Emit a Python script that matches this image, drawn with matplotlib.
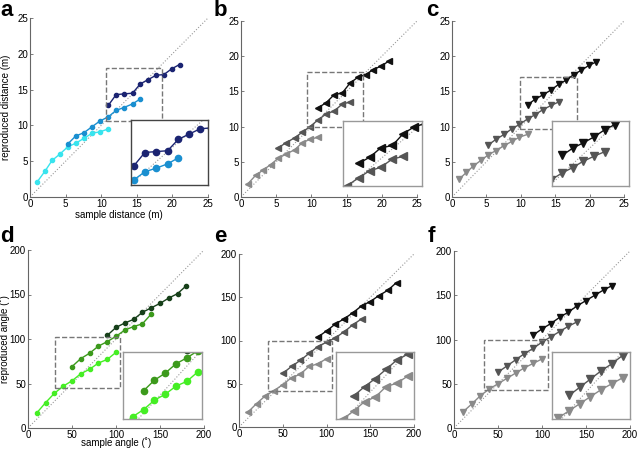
import matplotlib
matplotlib.use("Agg")
import matplotlib.pyplot as plt
from matplotlib.patches import Rectangle

plt.rcParams['font.family'] = ['Liberation Sans', 'DejaVu Sans']

# sample positions (distance in m, angle in deg)
dist_short = [1.0, 2.1, 3.1, 4.2, 5.3, 6.4, 7.6, 8.7, 9.8, 11.0]
dist_mid = [5.3, 6.4, 7.6, 8.7, 9.8, 11.0, 12.1, 13.2, 14.4, 15.5]
dist_long = [11.0, 12.1, 13.2, 14.4, 15.5, 16.6, 17.7, 18.8, 19.9, 21.0]
ang_short = [10, 20, 30, 40, 50, 60, 70, 80, 90, 100]
ang_mid = [50, 60, 70, 80, 90, 100, 110, 120, 130, 140]
ang_long = [90, 100, 110, 120, 130, 140, 150, 160, 170, 180]

# reproduced values
a_short = [2.1, 3.6, 5.1, 6.0, 7.0, 7.5, 8.2, 8.9, 9.1, 9.5]
a_mid = [7.4, 8.5, 9.0, 9.8, 10.6, 11.2, 12.1, 12.5, 13.0, 13.7]
a_long = [12.8, 14.3, 14.4, 14.5, 15.8, 16.4, 17.0, 17.1, 17.9, 18.5]

b_short = [1.9, 3.1, 3.8, 4.6, 5.5, 6.1, 6.7, 7.7, 8.2, 8.5]
b_mid = [7.0, 7.7, 8.4, 9.2, 10.0, 11.0, 11.8, 12.2, 13.2, 13.5]
b_long = [12.7, 13.4, 14.5, 14.8, 16.2, 17.0, 17.4, 18.1, 18.6, 19.3]

c_short = [2.5, 3.5, 4.4, 5.2, 6.0, 6.6, 7.3, 7.9, 8.5, 8.9]
c_mid = [7.4, 8.2, 8.9, 9.7, 10.3, 11.1, 11.7, 12.4, 13.0, 13.5]
c_long = [13.1, 13.9, 14.5, 15.2, 16.0, 16.6, 17.4, 18.0, 18.7, 19.2]

d_short = [17, 28.5, 39, 47, 53, 61, 66, 73, 77, 85]
d_mid = [69, 78, 84, 92, 97, 103, 110, 114, 117, 128]
d_long = [104, 113, 118, 122, 130, 135, 140, 146, 151, 160]

e_short = [17, 27, 36, 42, 49, 57, 61, 70, 73, 79]
e_mid = [62, 70, 77, 85, 93, 98, 103, 110, 118, 125]
e_long = [104, 111, 119, 125, 132, 140, 145, 152, 158, 167]

f_short = [18, 27, 36.5, 44, 50, 56, 62, 68, 73, 78]
f_mid = [63, 70, 77, 84, 90, 97, 103, 109, 115, 120]
f_long = [105, 112, 118, 125, 131, 138, 144, 150, 156, 161]

blues = ['#38e4ee', '#1a8fd0', '#1b2472']
greens = ['#45ee24', '#3c9a1c', '#17401a']
greys = ['#8a8a8a', '#555555', '#111111']

W, H = 640, 450
fig = plt.figure(figsize=(6.4, 4.5), dpi=100)
fig.patch.set_facecolor('white')


def px_axes(l, r, t, b):
    return fig.add_axes([l / W, (H - b) / H, (r - l) / W, (b - t) / H])


def style_axes(ax, lim, step):
    ax.set_xlim(0, lim)
    ax.set_ylim(0, lim)
    ax.set_xticks(range(0, lim + 1, step))
    ax.set_yticks(range(0, lim + 1, step))
    for s in ['top', 'right']:
        ax.spines[s].set_visible(False)
    for s in ['left', 'bottom']:
        ax.spines[s].set_color('#666666')
        ax.spines[s].set_linewidth(0.8)
    ax.tick_params(direction='in', length=2, width=0.6, color='#666666',
                   labelsize=7, pad=1.5)


def draw_series(ax, xs, ys, colors, marker, ms, lim):
    ax.plot([0, lim], [0, lim], ls=':', color='#999999', lw=0.8)
    for x, y, c in zip(xs, ys, colors):
        ax.plot(x, y, color=c, lw=1.0, marker=marker, ms=ms,
                markerfacecolor=c, markeredgecolor=c)


panels = [
    ('a', (30, 208, 18, 197), (131, 208, 120, 185), (10.7, 18.5, 10.6, 18.0),
     [dist_short, dist_mid, dist_long], [a_short, a_mid, a_long], blues, 'o', 25, 5, '#444444'),
    ('b', (241, 417, 21, 197), (343, 422, 121, 186), (9.4, 17.4, 10.0, 17.7),
     [dist_short, dist_mid, dist_long], [b_short, b_mid, b_long], greys, '<', 25, 5, '#999999'),
    ('c', (452, 624, 21, 197), (552, 629, 121, 186), (9.9, 18.1, 9.6, 17.0),
     [dist_short, dist_mid, dist_long], [c_short, c_mid, c_long], greys, 'v', 25, 5, '#999999'),
    ('d', (28, 204, 250, 428), (123, 202, 352, 419), (31, 104, 45, 102),
     [ang_short, ang_mid, ang_long], [d_short, d_mid, d_long], greens, 'o', 200, 50, '#999999'),
    ('e', (239, 414, 254, 427), (336, 414, 352, 419), (33.5, 106, 42, 100),
     [ang_short, ang_mid, ang_long], [e_short, e_mid, e_long], greys, '<', 200, 50, '#999999'),
    ('f', (454, 630, 251, 428), (552, 630, 352, 419), (34, 107, 43, 100),
     [ang_short, ang_mid, ang_long], [f_short, f_mid, f_long], greys, 'v', 200, 50, '#999999'),
]

letter_pos = {'a': (0, 0), 'b': (214, 0), 'c': (426, 0),
              'd': (0, 226), 'e': (214, 226), 'f': (428, 226)}

for name, box, ibox, zoom, xs, ys, cols, mk, lim, step, iframe in panels:
    ax = px_axes(*box)
    style_axes(ax, lim, step)
    ms = 3.0 if mk == 'o' else 3.8
    draw_series(ax, xs, ys, cols, mk, ms, lim)
    x0, x1, y0, y1 = zoom
    ax.add_patch(Rectangle((x0, y0), x1 - x0, y1 - y0, fill=False,
                           ls='--', lw=1.0, ec='#777777', zorder=5))

    # inset with the zoomed box
    ins = px_axes(*ibox)
    ins.set_facecolor('white')
    draw_series(ins, xs, ys, cols, mk, ms + 1.5, lim)
    ins.set_xlim(x0, x1)
    ins.set_ylim(y0, y1)
    ins.set_xticks([])
    ins.set_yticks([])
    for s in ins.spines.values():
        s.set_color(iframe)
        s.set_linewidth(1.0)

    lx, ly = letter_pos[name]
    fig.text(lx / W, 1 - ly / H, name, fontsize=16, fontweight='bold',
             ha='left', va='top')

    if name == 'a':
        ax.set_xlabel('sample distance (m)', fontsize=7, labelpad=1)
        ax.set_ylabel('reproduced distance (m)', fontsize=7)
        ax.yaxis.set_label_coords((11 - 30) / 178, 0.5)
    if name == 'd':
        ax.set_xlabel('sample angle (\u02da)', fontsize=7)
        ax.xaxis.set_label_coords(0.5, (428 - 437) / 178)
        ax.set_ylabel('reproduced angle (\u02da)', fontsize=7)
        ax.yaxis.set_label_coords((10 - 28) / 176, 0.5)

fig.savefig('out.png', dpi=100)
